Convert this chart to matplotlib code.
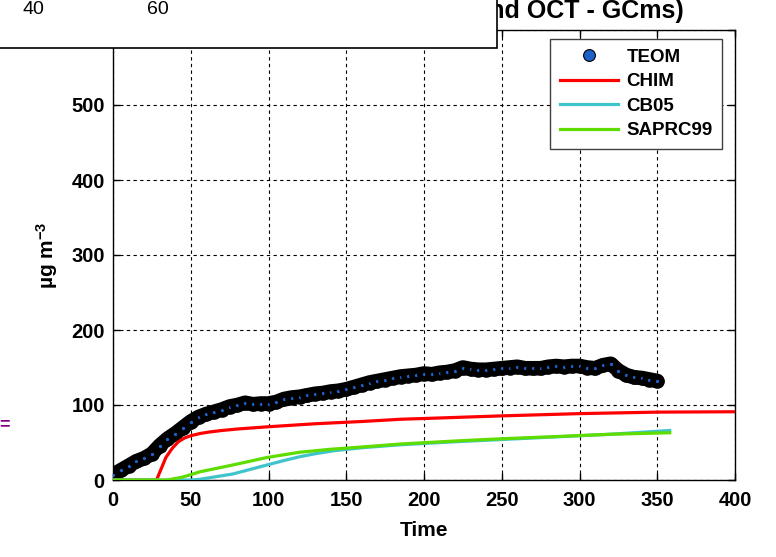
import numpy as np
import matplotlib
matplotlib.use('Agg')
import matplotlib.pyplot as plt
from matplotlib.patches import Rectangle

plt.rcParams['font.family'] = ['Liberation Sans', 'DejaVu Sans']
plt.rcParams['mathtext.fontset'] = 'custom'
plt.rcParams['mathtext.rm'] = 'Liberation Sans:bold'
plt.rcParams['mathtext.default'] = 'rm'

# TEOM observations (every 5 time units)
teom_t = np.arange(0, 351, 5)
teom = [7, 13, 19, 25, 29, 35, 46, 55, 62, 70, 78, 84, 88, 91, 94, 98, 100, 103,
        101, 102, 102, 104, 108, 110, 111, 113, 115, 116, 118, 119, 121, 124, 127,
        130, 132, 134, 136, 138, 139, 140, 142, 141, 143, 144, 146, 150, 148, 147,
        147, 148, 149, 150, 151, 149, 149, 149, 151, 152, 151, 152, 152, 150, 149,
        153, 155, 146, 140, 137, 136, 134, 132]

# model runs
chim_t = [0, 28, 31, 34, 38, 42, 46, 50, 56, 62, 70, 80, 100, 130, 160, 185, 200, 250, 300, 350, 400]
chim = [0, 0, 15, 30, 42, 51, 56, 59, 62, 64, 66, 68, 71, 75, 78, 81, 82, 85.5, 88.5, 90.5, 91]

cb05_t = [0, 50, 56, 65, 77, 88, 99, 110, 120, 130, 142, 160, 185, 220, 250, 280, 320, 358]
cb05 = [0, 0, 1, 4, 8, 14, 20, 26, 31, 35, 39, 43, 47, 51, 54, 57, 61, 66]

saprc_t = [0, 35, 45, 56, 77, 99, 120, 140, 160, 185, 220, 250, 280, 320, 358]
saprc = [0, 0, 4, 11, 20, 30, 37, 41, 44, 48, 52, 55, 57.5, 61, 63]

W, H = 776, 557
fig = plt.figure(figsize=(W / 100, H / 100), dpi=100)
ax = fig.add_axes([113 / W, 1 - 480 / H, 622 / W, 450 / H])

# dense TEOM markers: black band with blue specks
ax.plot(teom_t, teom, color='black', lw=10.5, solid_capstyle='round', zorder=3)
ax.plot(teom_t, teom, 'o', color='#1F5FC8', mec='black', mew=4, ms=6.5, zorder=3)
ax.plot([], [], 'o', color='#1F5FC8', mec='black', mew=0.8, ms=8.5, label='TEOM')
ax.plot(chim_t, chim, color='#FF0000', lw=2.3, label='CHIM', zorder=4)
ax.plot(cb05_t, cb05, color='#40C4CC', lw=2.3, label='CB05', zorder=4)
ax.plot(saprc_t, saprc, color='#5FDC00', lw=2.3, label='SAPRC99', zorder=4)

ax.set_xlim(0, 400)
ax.set_ylim(0, 600)
ax.set_xticks(np.arange(0, 401, 50))
ax.set_yticks(np.arange(0, 601, 100))
ax.grid(True, color='black', linestyle=(0, (3, 3)), linewidth=0.8)
ax.tick_params(direction='in', length=5, width=1, top=True, right=True,
               labelsize=14.5)
ax.tick_params(axis='x', pad=8)
ax.tick_params(axis='y', pad=6)
for lab in ax.get_xticklabels() + ax.get_yticklabels():
    lab.set_fontweight('bold')
for s in ax.spines.values():
    s.set_linewidth(1.0)

ax.set_xlabel('Time', fontsize=15, fontweight='bold', labelpad=8)
ax.set_ylabel('µg m$^{-3}$', fontsize=15, fontweight='bold', labelpad=8)

leg = ax.legend(loc='upper right', bbox_to_anchor=((722 - 113) / 622, (480 - 39) / 450),
                borderaxespad=0, fancybox=False, framealpha=1, edgecolor='#404040',
                prop={'weight': 'bold', 'size': 13.5}, handlelength=3.1,
                handletextpad=0.45, labelspacing=0.4, borderpad=0.5)
leg.get_frame().set_linewidth(1.0)

# partially hidden title
fig.text(684 / W, 1 - 18 / H, 'Total PM mass (TEOM and OCT - GCms)', ha='right', va='baseline',
         fontsize=18, fontweight='bold')

# overlapping panel in the top-left corner
fig.add_artist(Rectangle((-0.01, 1 - 48 / H), 497 / W + 0.01, 48 / H + 0.01,
                         transform=fig.transFigure, facecolor='white',
                         edgecolor='black', linewidth=1.2, zorder=5))
fig.text(33 / W, 1 - 1 / H, '40', ha='center', va='top', fontsize=14, zorder=6)
fig.text(158 / W, 1 - 1 / H, '60', ha='center', va='top', fontsize=14, zorder=6)
fig.text(4 / W, 1 - 425 / H, '=', ha='center', va='center', fontsize=13,
         color='#800080', fontweight='bold')

fig.savefig('out.png', dpi=100)
